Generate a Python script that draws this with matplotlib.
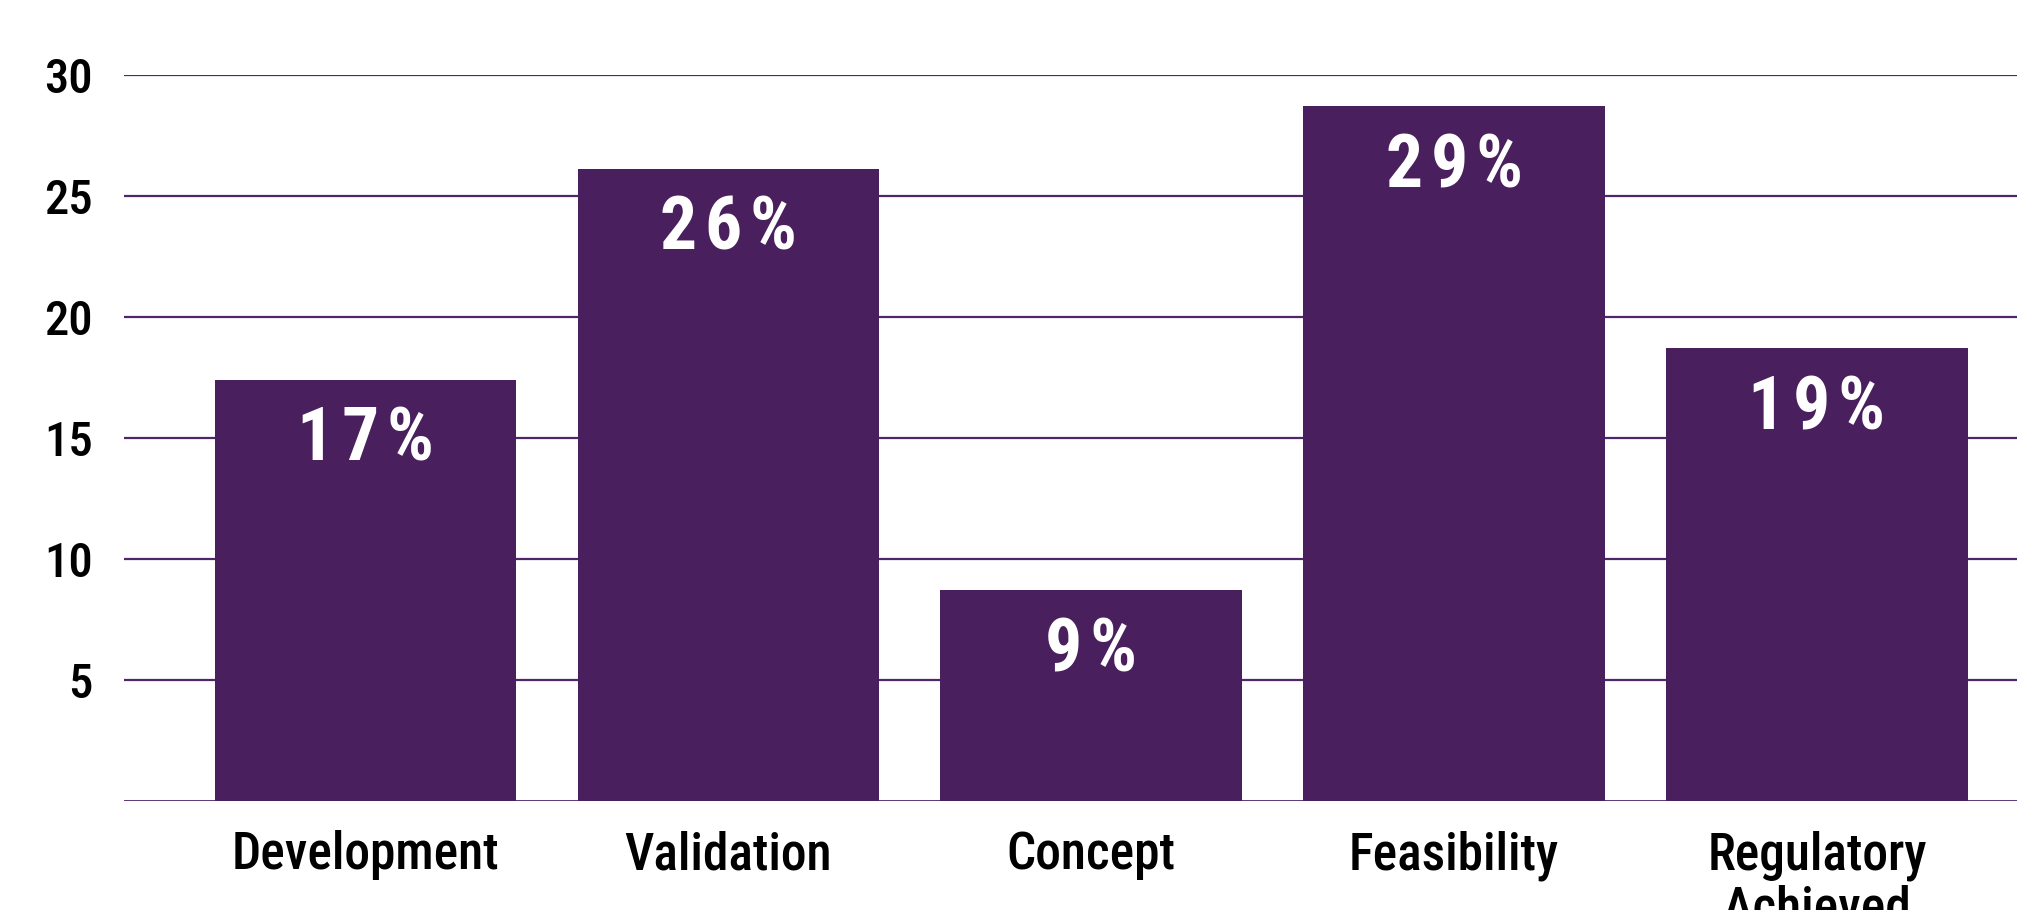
import matplotlib
matplotlib.use("Agg")
import matplotlib.pyplot as plt

# ---- data -------------------------------------------------------------------
stages = ["Development", "Validation", "Concept", "Feasibility", "Regulatory\nAchieved"]
values = [17.4, 26.1, 8.7, 28.7, 18.7]
pct_labels = ["17%", "26%", "9%", "29%", "19%"]
yticks = [5, 10, 15, 20, 25, 30]

# ---- style ------------------------------------------------------------------
PURPLE = "#4A1F5E"
GRID = "#50266A"
COND = ["Roboto Condensed", "Archivo Narrow", "IBM Plex Sans Condensed", "DejaVu Sans"]
HAIR = "\u200a"  # a little tracking for the bold value labels

fig = plt.figure(figsize=(20.17, 9.10), dpi=100)
fig.patch.set_facecolor("white")
ax = fig.add_axes([123.5 / 2017, 109 / 910, 1 - 123.5 / 2017, 726 / 910])

x = range(len(stages))
ax.bar(x, values, width=0.83, color=PURPLE, zorder=3)

for xi, v, lab in zip(x, values, pct_labels):
    ax.annotate(HAIR.join(lab), (xi, v), xytext=(0, -58), textcoords="offset points",
                ha="center", va="baseline", color="white", fontsize=53,
                fontweight="bold", family=COND, zorder=4)

ax.set_xlim(-0.666, 4.551)
ax.set_ylim(0, 30)
ax.set_yticks(yticks)
ax.set_yticklabels([str(t) for t in yticks], family=COND, fontsize=35,
                   fontweight="medium")
ax.set_xticks(list(x))
ax.set_xticklabels(stages, family=COND, fontsize=37, fontweight="medium",
                   linespacing=1.1)
ax.tick_params(axis="y", length=0, pad=22)
ax.tick_params(axis="x", length=0, pad=21)

for t in yticks:
    ax.axhline(t, color=GRID, lw=1.6, zorder=1)
ax.axhline(0, color=GRID, lw=2.0, zorder=1)

for s in ax.spines.values():
    s.set_visible(False)
ax.set_facecolor("white")

fig.savefig("out.png", dpi=100, facecolor="white")
